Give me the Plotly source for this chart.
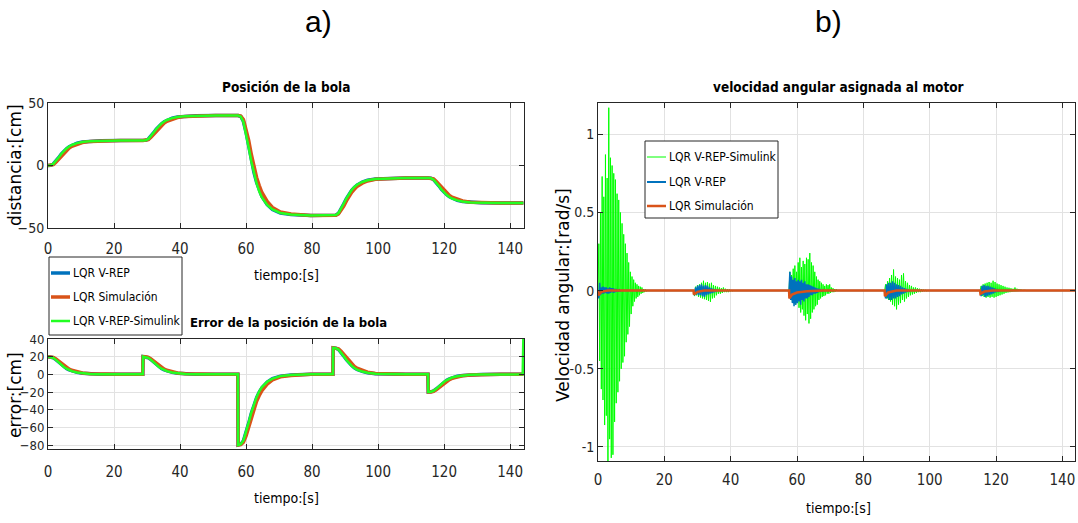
import plotly.graph_objects as go

# ---------------- data ----------------
# a) ball position / error: shared sample times (s)
t_pos = [0, 0.8, 1.6, 2.4, 3.2, 4.0, 4.8, 5.6, 6.4, 7.2, 8.8, 10.4, 12.8, 16, 22,
         28.8, 29.6, 30.4, 31.2, 32.0, 32.8, 33.6, 34.4, 35.2, 36.0, 37.6, 39.2, 41.6, 44.8, 50.8,
         57.6, 58.4, 59.2, 60.0, 60.8, 61.6, 62.4, 63.2, 64.0, 64.8, 66.4, 68.0, 70.4, 73.6, 79.6,
         86.4, 87.2, 88.0, 88.8, 89.6, 90.4, 91.2, 92.0, 92.8, 93.6, 95.2, 96.8, 99.2, 102.4, 108.4,
         115.2, 116.0, 116.8, 117.6, 118.4, 119.2, 120.0, 120.8, 121.6, 122.4, 124.0, 125.6, 128.0, 131.2, 137.2,
         144]

pos_vrep = [0, 0.2, 1.2, 3.4, 6.2, 9.0, 11.4, 13.4, 15.0, 16.2, 17.8, 18.8, 19.5, 19.8, 20,
            20, 20.2, 21.2, 23.4, 26.2, 29, 31.4, 33.4, 35, 36.2, 37.8, 38.8, 39.5, 39.8, 40,
            40, 39.2, 35.2, 26.4, 15.2, 4, -5.6, -13.6, -20, -24.8, -31.2, -35.2, -38, -39.2, -40,
            -40, -39.7, -38.2, -34.9, -30.7, -26.5, -22.9, -19.9, -17.5, -15.7, -13.3, -11.8, -10.75, -10.3, -10,
            -10, -10.2, -11.2, -13.4, -16.2, -19, -21.4, -23.4, -25, -26.2, -27.8, -28.8, -29.5, -29.8, -30,
            -30]
pos_sim = [0, 0.1, 0.8, 2.6, 5, 7.8, 10.2, 12.4, 14, 15.4, 17.2, 18.4, 19.3, 19.7, 20,
           20, 20.1, 20.8, 22.6, 25, 27.8, 30.2, 32.4, 34, 35.4, 37.2, 38.4, 39.3, 39.7, 40,
           40, 39.6, 36.8, 29.6, 20, 8.8, -0.8, -9.6, -16, -21.6, -28.8, -33.6, -37.2, -38.8, -40,
           -40, -39.85, -38.8, -36.1, -32.5, -28.3, -24.7, -21.4, -19, -16.9, -14.2, -12.4, -11.05, -10.45, -10,
           -10, -10.1, -10.8, -12.6, -15, -17.8, -20.2, -22.4, -24, -25.4, -27.2, -28.4, -29.3, -29.7, -30,
           -30]
pos_simulink = [0, 0.24, 1.3, 3.6, 6.4, 9.2, 11.6, 13.6, 15.2, 16.4, 17.9, 18.8, 19.5, 19.8, 20,
                20, 20.24, 21.3, 23.6, 26.4, 29.2, 31.6, 33.6, 35.2, 36.4, 37.9, 38.8, 39.5, 39.8, 40,
                40, 39.04, 34.8, 25.6, 14.4, 3.2, -6.4, -14.4, -20.8, -25.6, -31.6, -35.2, -38, -39.2, -40,
                -40, -39.64, -38.05, -34.6, -30.4, -26.2, -22.6, -19.6, -17.2, -15.4, -13.15, -11.8, -10.75, -10.3, -10,
                -10, -10.24, -11.3, -13.6, -16.4, -19.2, -21.6, -23.6, -25.2, -26.4, -27.9, -28.8, -29.5, -29.8, -30,
                -30]

t_err = [0, 0.8, 1.6, 2.4, 3.2, 4.0, 4.8, 5.6, 6.4, 7.2, 8.8, 10.4, 12.8, 16, 22, 28.7,
         28.8, 29.6, 30.4, 31.2, 32.0, 32.8, 33.6, 34.4, 35.2, 36.0, 37.6, 39.2, 41.6, 44.8, 50.8, 57.5,
         57.6, 58.4, 59.2, 60.0, 60.8, 61.6, 62.4, 63.2, 64.0, 64.8, 66.4, 68.0, 70.4, 73.6, 79.6, 86.3,
         86.4, 87.2, 88.0, 88.8, 89.6, 90.4, 91.2, 92.0, 92.8, 93.6, 95.2, 96.8, 99.2, 102.4, 108.4, 115.1,
         115.2, 116.0, 116.8, 117.6, 118.4, 119.2, 120.0, 120.8, 121.6, 122.4, 124.0, 125.6, 128.0, 131.2, 137.2, 143.8,
         144.0]

err_vrep = [20, 19.8, 18.8, 16.6, 13.8, 11, 8.6, 6.6, 5, 3.8, 2.2, 1.2, 0.5, 0.2, 0, 0,
            20, 19.8, 18.8, 16.6, 13.8, 11, 8.6, 6.6, 5, 3.8, 2.2, 1.2, 0.5, 0.2, 0, 0,
            -80, -79.2, -75.2, -66.4, -55.2, -44, -34.4, -26.4, -20, -15.2, -8.8, -4.8, -2, -0.8, 0, 0,
            30, 29.7, 28.2, 24.9, 20.7, 16.5, 12.9, 9.9, 7.5, 5.7, 3.3, 1.8, 0.75, 0.3, 0, 0,
            -20, -19.8, -18.8, -16.6, -13.8, -11, -8.6, -6.6, -5, -3.8, -2.2, -1.2, -0.5, -0.2, 0, 0,
            0]
err_sim = [20, 19.9, 19.2, 17.4, 15, 12.2, 9.8, 7.6, 6, 4.6, 2.8, 1.6, 0.7, 0.3, 0, 0,
           20, 19.9, 19.2, 17.4, 15, 12.2, 9.8, 7.6, 6, 4.6, 2.8, 1.6, 0.7, 0.3, 0, 0,
           -80, -79.6, -76.8, -69.6, -60, -48.8, -39.2, -30.4, -24, -18.4, -11.2, -6.4, -2.8, -1.2, 0, 0,
           30, 29.85, 28.8, 26.1, 22.5, 18.3, 14.7, 11.4, 9, 6.9, 4.2, 2.4, 1.05, 0.45, 0, 0,
           -20, -19.9, -19.2, -17.4, -15, -12.2, -9.8, -7.6, -6, -4.6, -2.8, -1.6, -0.7, -0.3, 0, 0,
           0]
err_simulink = [20, 19.76, 18.7, 16.4, 13.6, 10.8, 8.4, 6.4, 4.8, 3.6, 2.1, 1.2, 0.5, 0.2, 0, 0,
                20, 19.76, 18.7, 16.4, 13.6, 10.8, 8.4, 6.4, 4.8, 3.6, 2.1, 1.2, 0.5, 0.2, 0, 0,
                -80, -79.04, -74.8, -65.6, -54.4, -43.2, -33.6, -25.6, -19.2, -14.4, -8.4, -4.8, -2, -0.8, 0, 0,
                30, 29.64, 28.05, 24.6, 20.4, 16.2, 12.6, 9.6, 7.2, 5.4, 3.15, 1.8, 0.75, 0.3, 0, 0,
                -20, -19.76, -18.7, -16.4, -13.6, -10.8, -8.4, -6.4, -4.8, -3.6, -2.1, -1.2, -0.5, -0.2, 0, 0,
                40]

# b) angular velocity: bursts sampled at a fixed rate, starting at each step
burst_start = [0.0, 28.8, 57.6, 86.4, 115.2]
green_dt = [0.25, 0.3, 0.25, 0.3, 0.3]
green_b1 = [0.0, 0.30, -0.45, 0.50, -0.63, 0.73, -0.70, 0.60, -0.86, 0.87, -0.80, 0.72, -1.09, 1.17,
            -0.95, 0.85, -1.07, 0.80, -1.05, 0.75, -0.84, 0.71, -0.72, 0.62, -0.65, 0.58, -0.58, 0.50,
            -0.50, 0.43, -0.46, 0.36, -0.42, 0.30, -0.33, 0.24, -0.28, 0.18, -0.23, 0.12, -0.15, 0.09,
            -0.10, 0.07, -0.07, 0.05, -0.05, 0.04, -0.04, 0.03, -0.03, 0.025, -0.02, 0.02, -0.015, 0.01,
            -0.01, 0.008, -0.005, 0.0]
green_b2 = [0.0, -0.035, 0.025, -0.03, 0.035, -0.04, 0.04, -0.045, 0.05, -0.05, 0.063, -0.055, 0.05,
            -0.06, 0.055, -0.065, 0.045, -0.072, 0.05, -0.05, 0.035, -0.045, 0.03, -0.03, 0.025, -0.02,
            0.02, -0.02, 0.015, -0.015, 0.02, -0.01, 0.012, -0.01, 0.01, -0.01, 0.008, -0.005, 0.004,
            -0.003, 0.0]
green_b3 = [0.0, 0.12, -0.05, 0.10, -0.07, 0.14, -0.08, 0.16, -0.09, 0.12, -0.07, 0.18, -0.11, 0.21,
            -0.14, 0.15, -0.12, 0.19, -0.16, 0.17, -0.19, 0.21, -0.15, 0.20, -0.21, 0.24, -0.18, 0.18,
            -0.14, 0.16, -0.12, 0.12, -0.10, 0.09, -0.09, 0.07, -0.06, 0.06, -0.05, 0.05, -0.04, 0.04,
            -0.035, 0.03, -0.03, 0.04, -0.02, 0.035, -0.02, 0.04, -0.015, 0.02, -0.01, 0.015, -0.01,
            0.01, -0.005, 0.008, 0.0]
green_b4 = [0.0, 0.04, -0.05, 0.06, -0.06, 0.08, -0.07, 0.10, -0.09, 0.135, -0.10, 0.09, -0.12, 0.08,
            -0.09, 0.07, -0.08, 0.10, -0.06, 0.11, -0.07, 0.06, -0.05, 0.05, -0.04, 0.035, -0.03, 0.03,
            -0.025, 0.02, -0.02, 0.02, -0.015, 0.015, -0.01, 0.012, -0.01, 0.01, -0.006, 0.006, -0.004,
            0.004, -0.002, 0.0]
green_b5 = [0.0, 0.03, -0.035, 0.04, -0.04, 0.045, -0.045, 0.05, -0.04, 0.055, -0.045, 0.05, -0.04,
            0.063, -0.045, 0.055, -0.04, 0.045, -0.035, 0.04, -0.03, 0.035, -0.025, 0.03, -0.02, 0.025,
            -0.015, 0.02, -0.012, 0.018, -0.01, 0.015, -0.008, 0.012, -0.006, 0.02, -0.005, 0.012,
            -0.004, 0.01, -0.003, 0.008, -0.002, 0.005, -0.001, 0.004, 0.0]

blue_dt = [0.25, 0.3, 0.25, 0.3, 0.3]
blue_b1 = [0.0, -0.05, 0.05, -0.03, 0.02, -0.02, 0.025, -0.02, 0.02, -0.015, 0.02, -0.02, 0.015,
           -0.02, 0.02, -0.015, 0.015, -0.01, 0.015, -0.015, 0.01, -0.01, 0.01, -0.008, 0.006, -0.005,
           0.004, -0.003, 0.0]
blue_b2 = [0.0, -0.03, 0.02, -0.025, 0.03, -0.03, 0.035, -0.03, 0.04, -0.035, 0.03, -0.04, 0.035,
           -0.03, 0.03, -0.025, 0.02, -0.02, 0.015, -0.015, 0.01, -0.01, 0.008, -0.006, 0.004, 0.0]
blue_b3 = [0.0, 0.12, -0.06, 0.09, -0.08, 0.07, -0.10, 0.08, -0.09, 0.06, -0.08, 0.07, -0.07, 0.06,
           -0.09, 0.07, -0.06, 0.05, -0.07, 0.06, -0.05, 0.04, -0.05, 0.04, -0.04, 0.035, -0.03, 0.03,
           -0.03, 0.025, -0.02, 0.02, -0.02, 0.015, -0.015, 0.012, -0.01, 0.01, -0.008, 0.006, -0.005,
           0.004, 0.0]
blue_b4 = [0.0, -0.05, 0.04, -0.05, 0.05, -0.06, 0.05, -0.06, 0.06, -0.05, 0.05, -0.05, 0.04, -0.04,
           0.035, -0.035, 0.03, -0.025, 0.02, -0.02, 0.015, -0.012, 0.01, -0.008, 0.006, -0.004, 0.0]
blue_b5 = [0.0, -0.035, 0.03, -0.03, 0.035, -0.04, 0.03, -0.035, 0.03, -0.03, 0.025, -0.025, 0.02,
           -0.02, 0.015, -0.012, 0.01, -0.008, 0.006, -0.004, 0.0]

t_vel_sim = [0, 0.1, 1, 3, 28.8, 28.9, 30, 32, 57.6, 57.7, 58.5, 60, 63, 68,
             86.4, 86.5, 87.5, 90, 115.2, 115.3, 116.5, 119, 144]
vel_sim = [0, -0.03, -0.008, 0, 0, -0.025, -0.008, 0, 0, -0.05, -0.025, -0.012, -0.004, 0,
           0, -0.035, -0.012, 0, 0, -0.02, -0.006, 0, 0]

t_end = 144.0
x_ticks = [0, 20, 40, 60, 80, 100, 120, 140]
pos_ticks = [-50, 0, 50]
err_ticks = [-80, -60, -40, -20, 0, 20, 40]
vel_ticks = [-1, -0.5, 0, 0.5, 1]
vel_tick_text = ["-1", "-0.5", "0", "0.5", "1"]

names_a = ["LQR V-REP", "LQR Simulación", "LQR V-REP-Simulink"]
names_b = ["LQR V-REP-Simulink", "LQR V-REP", "LQR Simulación"]

# ---------------- styling ----------------
W, H = 1078, 523
BLUE = "#0072BD"
ORANGE = "#D95319"
GREEN = "#22FF22"
GREEN_THIN = "#00FF00"
NARROW = "DejaVu Sans Condensed, Liberation Sans, sans-serif"
WIDE = "DejaVu Sans, Liberation Sans, sans-serif"


def fx(p):
    return p / W


def fy(p):
    return 1 - p / H


def burst_series(starts, dts, bursts):
    xs, ys = [], []
    for s, dt, vals in zip(starts, dts, bursts):
        for i, v in enumerate(vals):
            xs.append(s + i * dt)
            ys.append(v)
    xs.append(t_end)
    ys.append(0.0)
    return xs, ys


gx, gy = burst_series(burst_start, green_dt, [green_b1, green_b2, green_b3, green_b4, green_b5])
bx, by = burst_series(burst_start, blue_dt, [blue_b1, blue_b2, blue_b3, blue_b4, blue_b5])

fig = go.Figure()

# a) top: position
fig.add_trace(go.Scatter(x=t_pos, y=pos_vrep, mode="lines", name=names_a[0],
                         line=dict(color=BLUE, width=3.5), xaxis="x", yaxis="y"))
fig.add_trace(go.Scatter(x=t_pos, y=pos_sim, mode="lines", name=names_a[1],
                         line=dict(color=ORANGE, width=3.5), xaxis="x", yaxis="y"))
fig.add_trace(go.Scatter(x=t_pos, y=pos_simulink, mode="lines", name=names_a[2],
                         line=dict(color=GREEN, width=2.5), xaxis="x", yaxis="y"))
# a) bottom: error
fig.add_trace(go.Scatter(x=t_err, y=err_vrep, mode="lines", name=names_a[0],
                         line=dict(color=BLUE, width=3.5), xaxis="x2", yaxis="y2"))
fig.add_trace(go.Scatter(x=t_err, y=err_sim, mode="lines", name=names_a[1],
                         line=dict(color=ORANGE, width=3.5), xaxis="x2", yaxis="y2"))
fig.add_trace(go.Scatter(x=t_err, y=err_simulink, mode="lines", name=names_a[2],
                         line=dict(color=GREEN, width=2.5), xaxis="x2", yaxis="y2"))
# b) angular velocity
fig.add_trace(go.Scatter(x=gx, y=gy, mode="lines", name=names_b[0],
                         line=dict(color=GREEN_THIN, width=1), xaxis="x3", yaxis="y3"))
fig.add_trace(go.Scatter(x=bx, y=by, mode="lines", name=names_b[1],
                         line=dict(color=BLUE, width=1.5), xaxis="x3", yaxis="y3"))
fig.add_trace(go.Scatter(x=t_vel_sim, y=vel_sim, mode="lines", name=names_b[2],
                         line=dict(color=ORANGE, width=2.5), xaxis="x3", yaxis="y3"))


def tf(size):
    return dict(family=NARROW, size=size, color="#262626")


axis_common = dict(showline=True, linecolor="#262626", linewidth=1, mirror="ticks",
                   ticks="inside", ticklen=5, tickcolor="#262626", showgrid=True,
                   gridcolor="#e2e2e2", gridwidth=1, zeroline=False, automargin=False)

left_dom = [fx(48), fx(524)]
right_dom = [fx(598), fx(1075)]

fig.update_layout(
    width=W, height=H, margin=dict(l=0, r=0, t=0, b=0),
    paper_bgcolor="white", plot_bgcolor="white", showlegend=False,
    xaxis=dict(domain=left_dom, range=[0, 144.2], tickvals=x_ticks, anchor="y",
               tickfont=tf(15), ticklabelstandoff=7, **axis_common),
    yaxis=dict(domain=[fy(228), fy(103)], range=[-50, 50], tickvals=pos_ticks, anchor="x",
               tickfont=tf(14), **axis_common),
    xaxis2=dict(domain=left_dom, range=[0, 144.2], tickvals=x_ticks, anchor="y2",
                tickfont=tf(15), ticklabelstandoff=9, **axis_common),
    yaxis2=dict(domain=[fy(449), fy(339)], range=[-84.5, 40], tickvals=err_ticks, anchor="x2",
                tickfont=tf(13), **axis_common),
    xaxis3=dict(domain=right_dom, range=[0, 143.8], tickvals=x_ticks, anchor="y3",
                tickfont=tf(15), ticklabelstandoff=5, **axis_common),
    yaxis3=dict(domain=[fy(461), fy(103)], range=[-1.09, 1.2], tickvals=vel_ticks,
                ticktext=vel_tick_text, anchor="x3", tickfont=tf(14), **axis_common),
)

TITLE_SIZE = 13
ann = [
    dict(text="a)", x=fx(318), y=fy(22), font=dict(family="Liberation Sans, sans-serif", size=30)),
    dict(text="b)", x=fx(828), y=fy(22), font=dict(family="Liberation Sans, sans-serif", size=30)),
    dict(text="<b>Posición de la bola</b>", x=fx(286), y=fy(87), font=dict(family=NARROW, size=TITLE_SIZE + 0.5)),
    dict(text="<b>Error de la posición de la bola</b>", x=fx(288), y=fy(322), font=dict(family=NARROW, size=TITLE_SIZE)),
    dict(text="<b>velocidad angular asignada al motor</b>", x=fx(838), y=fy(87), font=dict(family=NARROW, size=TITLE_SIZE + 0.5)),
    dict(text="tiempo:[s]", x=fx(286), y=fy(275), font=dict(family=NARROW, size=14)),
    dict(text="tiempo:[s]", x=fx(286), y=fy(498), font=dict(family=NARROW, size=14)),
    dict(text="tiempo:[s]", x=fx(838), y=fy(508), font=dict(family=NARROW, size=14)),
    dict(text="distancia:[cm]", x=fx(15), y=fy(165), textangle=-90, font=dict(family=WIDE, size=17)),
    dict(text="error:[cm]", x=fx(15), y=fy(395), textangle=-90, font=dict(family=WIDE, size=17)),
    dict(text="Velocidad angular:[rad/s]", x=fx(563), y=fy(295), textangle=-90, font=dict(family=WIDE, size=17)),
]
for a in ann:
    a.update(xref="paper", yref="paper", showarrow=False, xanchor="center", yanchor="middle")

# legend boxes (key lines + labels), in figure pixels
LEG_SIZE = 12
shapes = []
leg_a = dict(box=(49, 257, 182, 335), rows=[273, 297, 321], key=(51, 70),
             names=names_a, colors=[BLUE, ORANGE, GREEN], widths=[3.5, 3.5, 2.5])
leg_b = dict(box=(645, 141, 778, 218), rows=[157, 182, 206], key=(647, 666),
             names=names_b, colors=[GREEN_THIN, BLUE, ORANGE], widths=[1, 2, 2.5])
for lg in (leg_a, leg_b):
    x0, y0, x1, y1 = lg["box"]
    shapes.append(dict(type="rect", xref="paper", yref="paper", x0=fx(x0), x1=fx(x1),
                       y0=fy(y1), y1=fy(y0), line=dict(color="#262626", width=1),
                       fillcolor="white", layer="above"))
    for yy, nm, col, wd in zip(lg["rows"], lg["names"], lg["colors"], lg["widths"]):
        shapes.append(dict(type="line", xref="paper", yref="paper", x0=fx(lg["key"][0]),
                           x1=fx(lg["key"][1]), y0=fy(yy), y1=fy(yy),
                           line=dict(color=col, width=wd), layer="above"))
        ann.append(dict(text=nm, x=fx(lg["key"][1] + 1), y=fy(yy), xref="paper", yref="paper",
                        showarrow=False, xanchor="left", yanchor="middle",
                        font=dict(family=NARROW, size=LEG_SIZE, color="black")))

for a in ann:
    a["font"].setdefault("color", "black")
fig.update_layout(annotations=ann, shapes=shapes)

fig.write_html("out.html", config={"displayModeBar": False},
               post_script="document.body.style.margin='0px';")
